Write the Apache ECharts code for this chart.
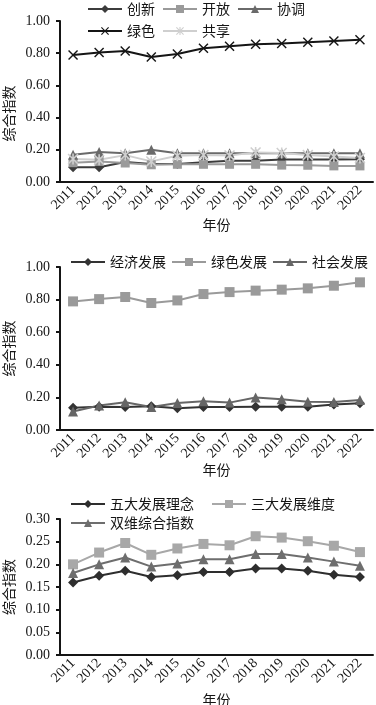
<!DOCTYPE html>
<html>
<head>
<meta charset="utf-8">
<script src="https://cdn.jsdelivr.net/npm/echarts@6/dist/echarts.min.js"></script>
<style>
  html, body { margin: 0; padding: 0; background: #fff; }
  #chart { width: 376px; height: 705px; }
</style>
</head>
<body>
<div id="chart"></div>
<script>
const years = ['2011', '2012', '2013', '2014', '2015', '2016', '2017', '2018', '2019', '2020', '2021', '2022']

// chart 1 - five development concepts
const chuangxin = [0.091, 0.091, 0.124, 0.112, 0.112, 0.122, 0.132, 0.132, 0.140, 0.140, 0.140, 0.142]
const kaifang = [0.120, 0.128, 0.118, 0.107, 0.110, 0.110, 0.110, 0.110, 0.105, 0.104, 0.100, 0.100]
const xietiao = [0.169, 0.186, 0.178, 0.200, 0.178, 0.178, 0.178, 0.178, 0.178, 0.178, 0.178, 0.178]
const lvse = [0.789, 0.804, 0.814, 0.777, 0.795, 0.831, 0.843, 0.855, 0.860, 0.868, 0.876, 0.884]
const gongxiang = [0.143, 0.138, 0.167, 0.128, 0.163, 0.167, 0.165, 0.184, 0.180, 0.167, 0.159, 0.149]

// chart 2 - three dimensions
const jingji = [0.137, 0.143, 0.141, 0.145, 0.133, 0.141, 0.141, 0.143, 0.143, 0.143, 0.156, 0.164]
const lvseFazhan = [0.789, 0.803, 0.816, 0.779, 0.795, 0.834, 0.846, 0.855, 0.861, 0.869, 0.885, 0.906]
const shehui = [0.113, 0.150, 0.170, 0.141, 0.166, 0.176, 0.168, 0.199, 0.189, 0.174, 0.172, 0.184]

// chart 3 - composite
const wuda = [0.160, 0.175, 0.186, 0.172, 0.176, 0.183, 0.183, 0.191, 0.191, 0.186, 0.177, 0.172]
const sanda = [0.200, 0.226, 0.247, 0.221, 0.235, 0.245, 0.242, 0.262, 0.259, 0.251, 0.241, 0.227]
const shuangwei = [0.181, 0.200, 0.215, 0.195, 0.202, 0.211, 0.211, 0.223, 0.223, 0.215, 0.206, 0.197]

const serif = '"Liberation Serif", "Times New Roman", serif'
const cjk = '"Noto Sans CJK SC", sans-serif'
const ink = '#151515'

const xMark = 'path://M0,1L1,0L5,4L9,0L10,1L6,5L10,9L9,10L5,6L1,10L0,9L4,5Z'
const starMark = 'path://M0,1L1,0L5,4L9,0L10,1L6,5L10,9L9,10L5,6L1,10L0,9L4,5Z M4.3,0L5.7,0L5.7,10L4.3,10Z'

const grids = [
  { left: 60, right: 3, top: 21, height: 161, outerBoundsMode: 'none' },
  { left: 60, right: 3, top: 267, height: 163, outerBoundsMode: 'none' },
  { left: 60, right: 3, top: 519, height: 136, outerBoundsMode: 'none' }
]

const makeX = (i, gap) => ({
  type: 'category',
  gridIndex: i,
  data: years,
  boundaryGap: true,
  name: '年份',
  nameLocation: 'middle',
  nameGap: gap,
  nameMoveOverlap: false,
  nameTextStyle: { fontFamily: cjk, fontSize: 14, color: ink },
  axisLine: { lineStyle: { color: ink, width: 2 } },
  axisTick: { alignWithLabel: false, length: 5, lineStyle: { color: ink, width: 2 } },
  axisLabel: { rotate: 45, interval: 0, margin: 6, fontFamily: serif, fontSize: 14, color: ink }
})

// shift is extra padding that nudges the rotated name along the axis
const makeY = (i, max, step, shift) => ({
  type: 'value',
  gridIndex: i,
  min: 0,
  max: max,
  interval: step,
  name: '综合指数',
  nameLocation: 'middle',
  nameGap: 44,
  nameRotate: 90,
  nameMoveOverlap: false,
  nameTextStyle: { fontFamily: cjk, fontSize: 14, color: ink, padding: [0, shift, 0, 0] },
  splitLine: { show: false },
  axisLine: { show: true, lineStyle: { color: ink, width: 2 } },
  axisTick: { show: true, length: 4, lineStyle: { color: ink, width: 2 } },
  axisLabel: { margin: 10, fontFamily: serif, fontSize: 14, color: ink, formatter: v => v.toFixed(2) }
})

const line = (name, data, i, color, symbol, size) => ({
  name: name,
  type: 'line',
  xAxisIndex: i,
  yAxisIndex: i,
  data: data,
  symbol: symbol,
  symbolSize: size,
  color: color,
  lineStyle: { color: color, width: 2 },
  itemStyle: { color: color },
  emphasis: { disabled: true },
  animation: false
})

const legend = (data, left, top, gap) => ({
  data: data,
  left: left,
  top: top,
  width: 370,
  padding: 0,
  itemWidth: 34,
  itemHeight: 10,
  itemGap: gap,
  selectedMode: false,
  textStyle: { fontFamily: cjk, fontSize: 14, color: ink }
})

const chart = echarts.init(document.getElementById('chart'))
chart.setOption({
  animation: false,
  backgroundColor: '#fff',
  grid: grids,
  xAxis: [makeX(0, 36), makeX(1, 33), makeX(2, 38)],
  yAxis: [makeY(0, 1, 0.2, 24), makeY(1, 1, 0.2, 0), makeY(2, 0.3, 0.05, 0)],
  legend: [
    legend(['创新', '开放', '协调'], 87, 2, 7),
    legend(['绿色', '共享'], 87, 24, 7),
    legend(['经济发展', '绿色发展', '社会发展'], 70, 255, 5),
    legend(['五大发展理念', '三大发展维度'], 70, 497, 17),
    legend(['双维综合指数'], 70, 516, 17)
  ],
  series: [
    line('创新', chuangxin, 0, '#3c3c3c', 'diamond', 10),
    line('开放', kaifang, 0, '#9a9a9a', 'rect', 9),
    line('协调', xietiao, 0, '#6a6a6a', 'triangle', 10),
    line('绿色', lvse, 0, '#151515', xMark, 10),
    line('共享', gongxiang, 0, '#cfcfcf', starMark, 11),
    line('经济发展', jingji, 1, '#333333', 'diamond', 10),
    line('绿色发展', lvseFazhan, 1, '#9a9a9a', 'rect', 10),
    line('社会发展', shehui, 1, '#666666', 'triangle', 10),
    line('五大发展理念', wuda, 2, '#2e2e2e', 'diamond', 10),
    line('三大发展维度', sanda, 2, '#a8a8a8', 'rect', 10),
    line('双维综合指数', shuangwei, 2, '#6e6e6e', 'triangle', 10)
  ]
})
</script>
</body>
</html>
